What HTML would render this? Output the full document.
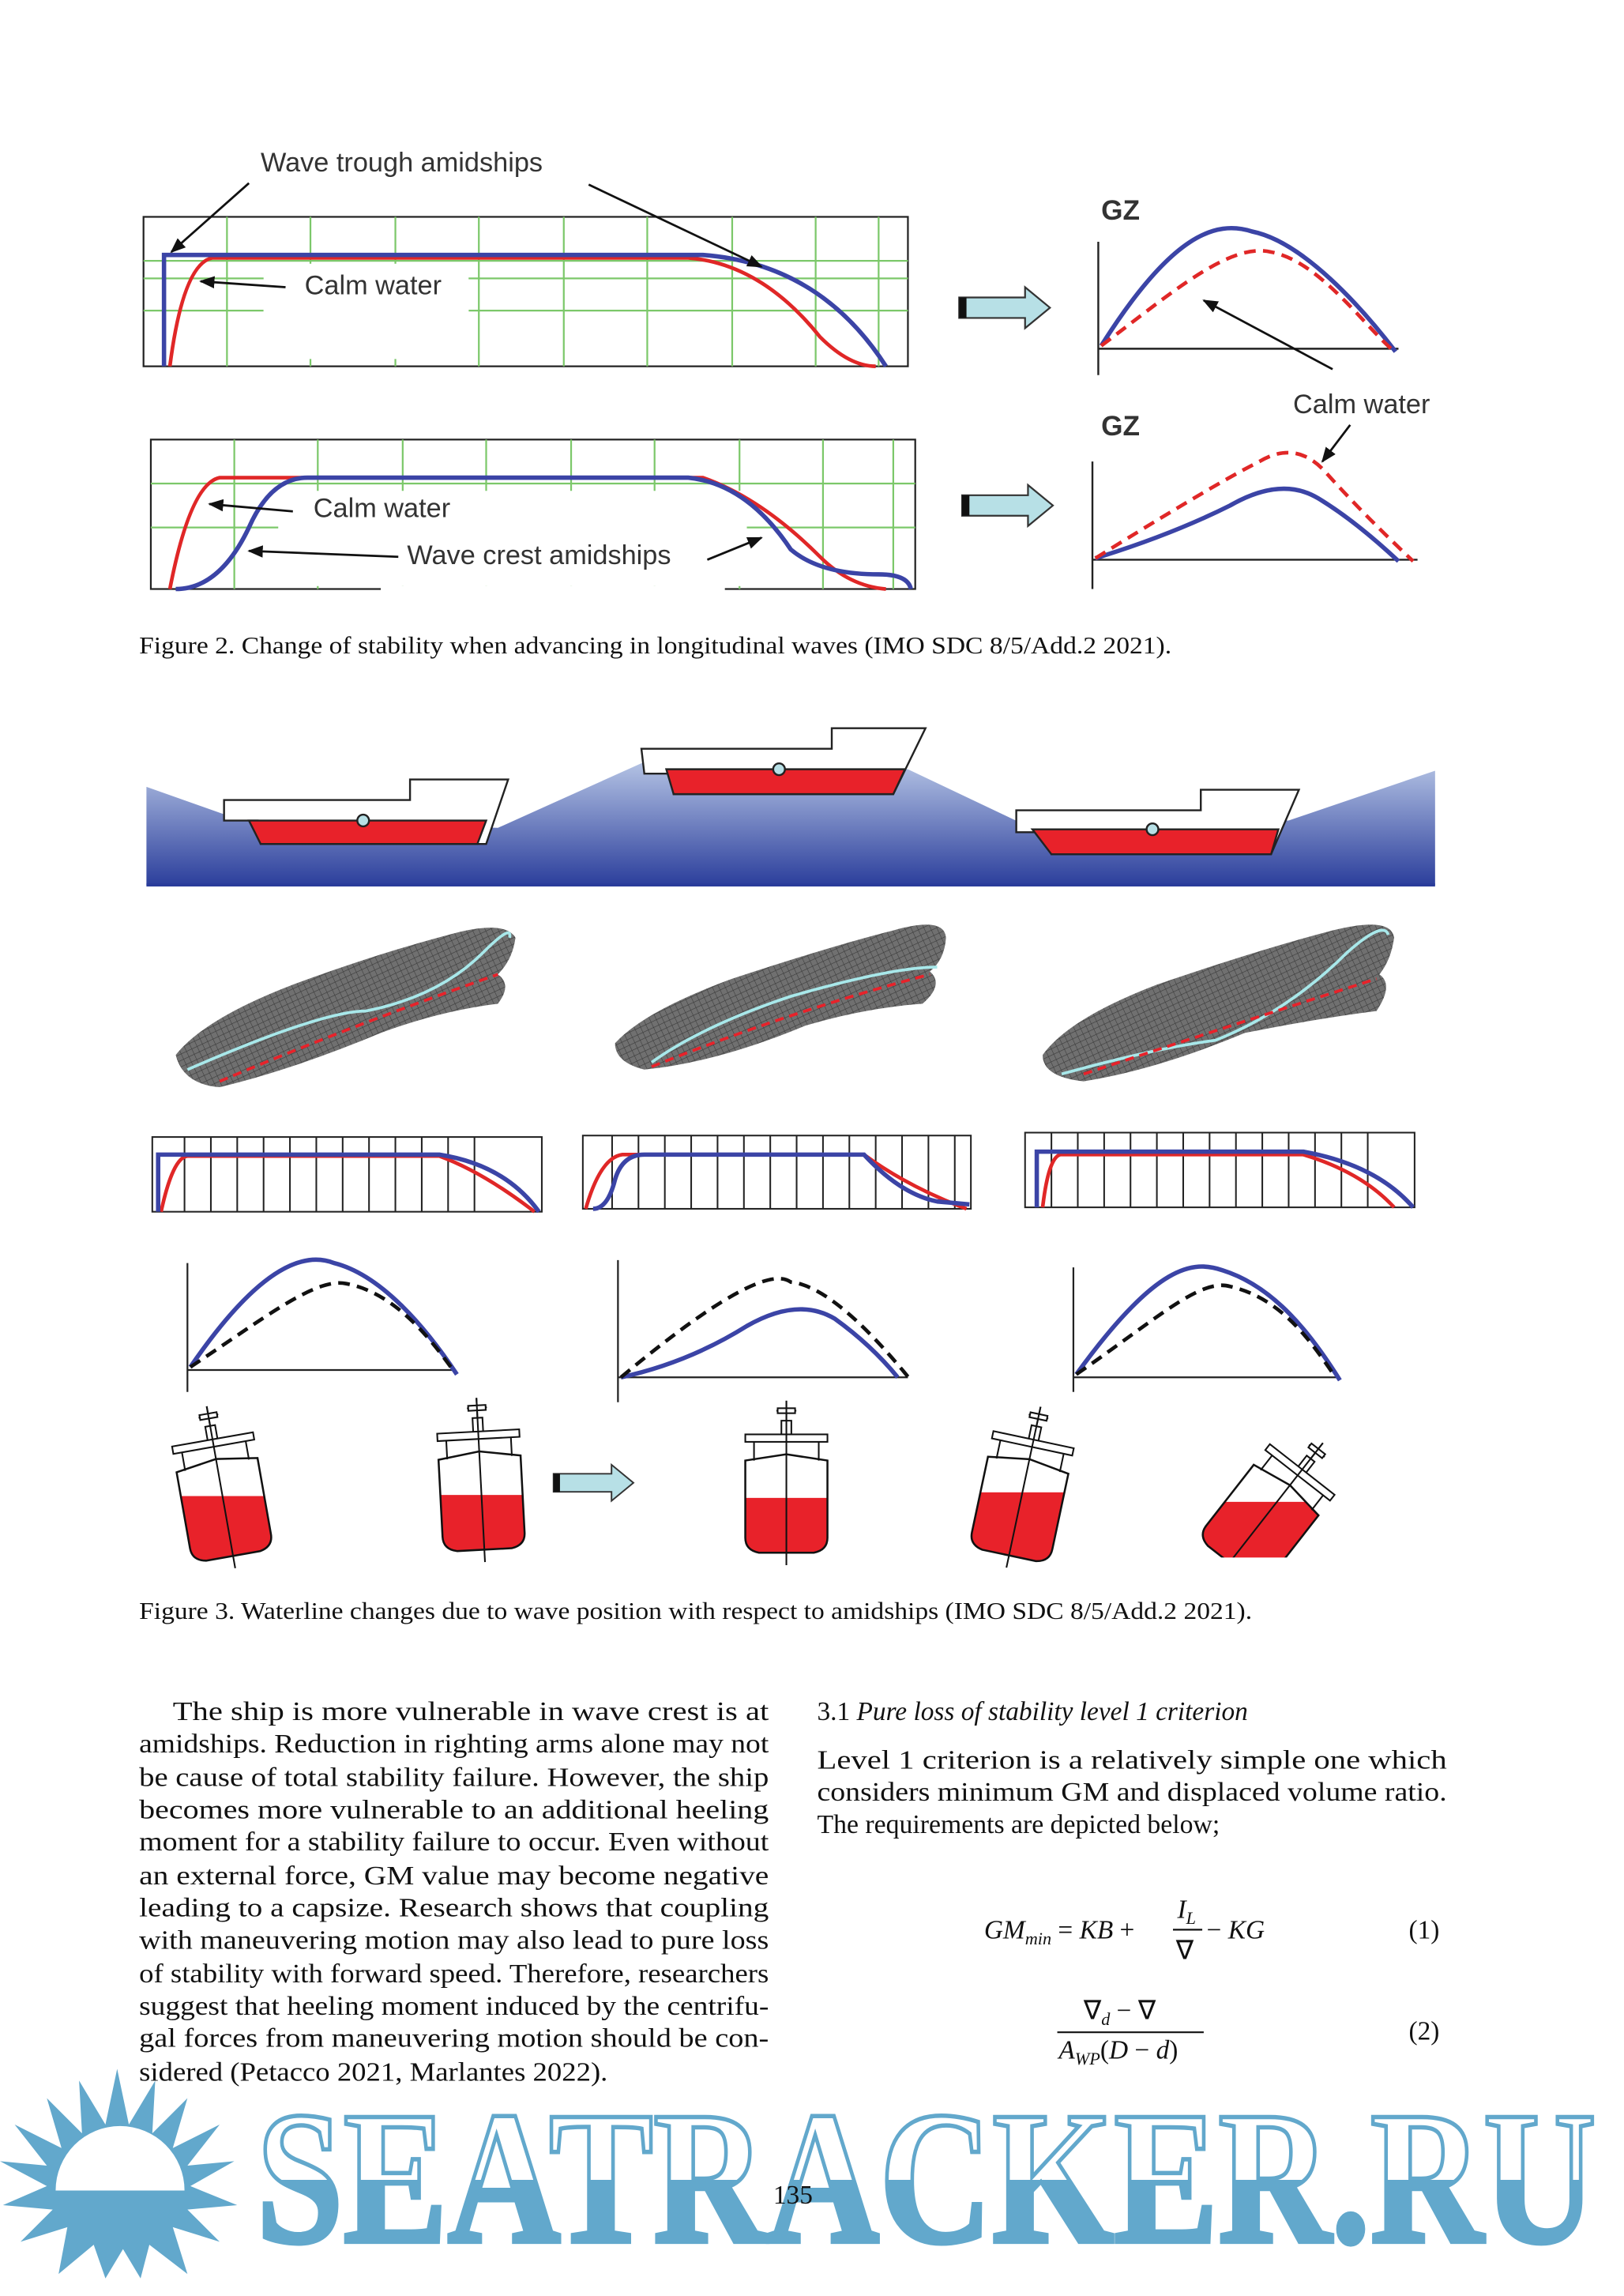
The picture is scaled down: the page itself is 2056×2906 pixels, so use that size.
<!DOCTYPE html>
<html><head><meta charset="utf-8"><style>
html,body{margin:0;padding:0;background:#fff}
svg{display:block}
text{font-family:"Liberation Serif",serif}
.s{font-family:"Liberation Sans",sans-serif}
</style></head><body>
<svg width="2056" height="2906" viewBox="0 0 1109 1567" preserveAspectRatio="none" xmlns="http://www.w3.org/2000/svg">
<defs>
<marker id="ah" viewBox="0 0 10 10" refX="9" refY="5" markerWidth="7" markerHeight="7" orient="auto"><path d="M0,1 L10,5 L0,9 Z" fill="#111"/></marker>
<linearGradient id="sea" x1="0" y1="0" x2="0" y2="1"><stop offset="0" stop-color="#b4c3e4"/><stop offset="1" stop-color="#2c3f9c"/></linearGradient>
<linearGradient id="wm" gradientUnits="userSpaceOnUse" x1="0" y1="1440" x2="0" y2="1532"><stop offset="0.52" stop-color="#fff"/><stop offset="0.52" stop-color="#62a8cc"/></linearGradient>
<pattern id="mesh" width="4" height="4" patternUnits="userSpaceOnUse" patternTransform="rotate(-25)"><rect width="4" height="4" fill="#707070"/><path d="M0,0H4M0,0V4" stroke="#3a3a3a" stroke-width="0.6"/></pattern>
<g id="arrowR"><path d="M0,-7 H45 V-14 L62,0 L45,14 V7 H0 Z" fill="#b7e0e6" stroke="#333" stroke-width="1.2"/><rect x="0" y="-7" width="5" height="14" fill="#111"/></g>
<path id="hull" d="M-33,-12 L0,-17 L33,-12 L33,50 Q33,60 22,62 L-22,62 Q-33,60 -33,50 Z"/>
<g id="top" fill="none" stroke="#111" stroke-width="1.3">
<path d="M-26,-12 V-27 M26,-12 V-27"/><rect x="-33" y="-33" width="66" height="6" fill="#fff"/>
<path d="M-4,-33 V-44 H4 V-33"/><path d="M0,-44 V-60 M-8,-52 H8"/><rect x="-7" y="-54" width="14" height="4" fill="#fff"/>
<path d="M0,-60 V72"/></g>
<clipPath id="c1"><use href="#hull" transform="rotate(-10)"/></clipPath>
<clipPath id="c2"><use href="#hull" transform="rotate(-3)"/></clipPath>
<clipPath id="c3"><use href="#hull"/></clipPath>
<clipPath id="c4"><use href="#hull" transform="rotate(12)"/></clipPath>
<clipPath id="c5"><use href="#hull" transform="rotate(38)"/></clipPath>
</defs>
<rect width="1109" height="1567" fill="#fff"/>

<!-- FIGURE 2 top -->
<g>
<rect x="98" y="148" width="522" height="102" fill="#fff" stroke="#222" stroke-width="1.2"/>
<g stroke="#7cc86a" stroke-width="1.2">
<path d="M98,178H620 M98,212H180 M320,212H620 M98,190H620"/>
<path d="M155,148V250M212,148V250M270,148V250M327,148V250M385,148V250M442,148V250M500,148V250M557,148V250M600,148V250"/>
</g>
<rect x="180" y="180" width="140" height="65" fill="#fff"/>
<path d="M116,250 Q125,180 145,176 L470,176 Q520,180 560,230 Q580,250 598,250" fill="none" stroke="#e02727" stroke-width="2.5"/>
<path d="M112,250 V174 L480,174 Q560,180 605,250" fill="none" stroke="#3b44a6" stroke-width="3"/>
<text x="178" y="117" class="s" font-size="18.5" fill="#333">Wave trough amidships</text>
<line x1="170" y1="125" x2="117" y2="172" stroke="#111" stroke-width="1.5" marker-end="url(#ah)"/>
<line x1="402" y1="126" x2="520" y2="182" stroke="#111" stroke-width="1.5" marker-end="url(#ah)"/>
<text x="208" y="201" class="s" font-size="18.5" fill="#333">Calm water</text>
<line x1="195" y1="196" x2="137" y2="192" stroke="#111" stroke-width="1.5" marker-end="url(#ah)"/>
<use href="#arrowR" transform="translate(655,210)"/>
<text x="752" y="150" class="s" font-size="19" font-weight="bold" fill="#333">GZ</text>
<path d="M750,165 V256 M750,238 H955" stroke="#222" stroke-width="1.3" fill="none"/>
<path d="M752,236 C800,160 830,150 855,158 C890,165 930,210 953,240" fill="none" stroke="#3b44a6" stroke-width="3"/>
<path d="M752,236 C800,200 840,165 868,172 C900,178 930,220 950,238" fill="none" stroke="#e02727" stroke-width="2.5" stroke-dasharray="8,5"/>
<line x1="910" y1="252" x2="822" y2="205" stroke="#111" stroke-width="1.5" marker-end="url(#ah)"/>
<text x="883" y="282" class="s" font-size="18.5" fill="#333">Calm water</text>
</g>
<!-- FIGURE 2 bottom -->
<g>
<rect x="103" y="300" width="522" height="102" fill="#fff" stroke="#222" stroke-width="1.2"/>
<g stroke="#7cc86a" stroke-width="1.2">
<path d="M103,330H625 M103,360H625"/>
<path d="M160,300V402M217,300V402M275,300V402M332,300V402M390,300V402M447,300V402M505,300V402M562,300V402M610,300V402"/>
</g>
<rect x="190" y="335" width="320" height="65" fill="#fff"/>
<rect x="260" y="400" width="235" height="4" fill="#fff"/>
<path d="M116,402 Q130,330 150,326 L480,326 Q520,340 560,380 Q580,400 605,402" fill="none" stroke="#e02727" stroke-width="2.5"/>
<path d="M120,402 Q150,402 170,360 Q185,326 210,326 L470,326 Q510,330 540,375 Q560,392 600,392 Q620,392 622,402" fill="none" stroke="#3b44a6" stroke-width="3"/>
<text x="214" y="353" class="s" font-size="18.5" fill="#333">Calm water</text>
<line x1="200" y1="349" x2="143" y2="344" stroke="#111" stroke-width="1.5" marker-end="url(#ah)"/>
<text x="278" y="385" class="s" font-size="18.5" fill="#333">Wave crest amidships</text>
<line x1="272" y1="380" x2="170" y2="376" stroke="#111" stroke-width="1.5" marker-end="url(#ah)"/>
<line x1="483" y1="382" x2="520" y2="367" stroke="#111" stroke-width="1.5" marker-end="url(#ah)"/>
<use href="#arrowR" transform="translate(657,345)"/>
<text x="752" y="297" class="s" font-size="19" font-weight="bold" fill="#333">GZ</text>
<path d="M746,315 V402 M746,382 H968" stroke="#222" stroke-width="1.3" fill="none"/>
<path d="M748,381 Q800,365 840,345 Q875,325 900,340 Q925,355 955,383" fill="none" stroke="#3b44a6" stroke-width="3"/>
<path d="M748,381 Q830,330 860,315 Q885,300 905,322 Q930,350 965,383" fill="none" stroke="#e02727" stroke-width="2.5" stroke-dasharray="8,5"/>
<line x1="922" y1="290" x2="903" y2="315" stroke="#111" stroke-width="1.5" marker-end="url(#ah)"/>
</g>
<text x="95" y="446" font-size="16.5" fill="#111" textLength="705" lengthAdjust="spacingAndGlyphs">Figure 2.  Change of stability when advancing in longitudinal waves (IMO SDC 8/5/Add.2 2021).</text>

<!-- FIGURE 3 sea -->
<path d="M100,537 L165,560 L340,565 L440,520 L620,525 L700,563 L880,560 L980,526 L980,604 L100,604 Z" fill="url(#sea)"/>
<line x1="100" y1="604" x2="980" y2="604" stroke="#2a3c9a" stroke-width="2"/>
<g stroke="#222" stroke-width="1.3">
<path d="M153,546 H280 V532 H347 L332,576 H178 L176,560 H153 Z" fill="#fff"/>
<path d="M170,560 H332 L326,576 H178 Z" fill="#e8222a"/>
<circle cx="248" cy="560" r="4" fill="#b7e0e6"/>
<path d="M438,511 H568 V497 H632 L610,542 H460 L458,528 H440 Z" fill="#fff"/>
<path d="M455,525 H618 L610,542 H460 Z" fill="#e8222a"/>
<circle cx="532" cy="525" r="4" fill="#b7e0e6"/>
<path d="M694,553 H820 V539 H887 L868,583 H718 L716,568 H694 Z" fill="#fff"/>
<path d="M705,566 H873 L868,583 H718 Z" fill="#e8222a"/>
<circle cx="787" cy="566" r="4" fill="#b7e0e6"/>
</g>
<!-- hulls -->
<g>
<path d="M120,720 Q140,695 200,672 Q260,650 310,637 Q345,628 352,640 Q350,655 340,665 Q350,672 340,685 Q300,690 260,705 Q200,730 150,742 Q125,740 120,720 Z" fill="url(#mesh)"/>
<path d="M128,730 Q220,690 250,690 Q300,680 330,650 Q350,630 348,640" fill="none" stroke="#a8e8ea" stroke-width="2"/>
<path d="M150,738 Q240,700 340,665" fill="none" stroke="#e8222a" stroke-width="2" stroke-dasharray="6,4"/>
<path d="M420,712 Q440,690 500,668 Q570,645 610,635 Q645,625 646,640 Q645,655 635,663 Q645,672 630,685 Q590,688 550,700 Q490,725 440,730 Q420,725 420,712 Z" fill="url(#mesh)"/>
<path d="M445,725 Q480,700 540,680 Q610,660 640,660" fill="none" stroke="#a8e8ea" stroke-width="2"/>
<path d="M445,728 Q540,690 635,665" fill="none" stroke="#e8222a" stroke-width="2" stroke-dasharray="6,4"/>
<path d="M712,720 Q730,695 790,672 Q860,648 910,635 Q950,625 952,640 Q950,655 942,665 Q952,672 940,690 Q900,695 850,705 Q790,730 740,738 Q712,735 712,720 Z" fill="url(#mesh)"/>
<path d="M725,733 Q790,715 830,710 Q880,690 920,650 Q945,628 948,638" fill="none" stroke="#a8e8ea" stroke-width="2"/>
<path d="M740,733 Q840,700 940,668" fill="none" stroke="#e8222a" stroke-width="2" stroke-dasharray="6,4"/>
</g>
<!-- small boxes -->
<g fill="none" stroke="#222" stroke-width="1.1">
<rect x="104" y="776" width="266" height="51"/><path d="M126,776V827M144,776V827M162,776V827M180,776V827M198,776V827M216,776V827M234,776V827M252,776V827M270,776V827M288,776V827M306,776V827M324,776V827"/>
<rect x="398" y="775" width="265" height="50"/><path d="M418,775V825M436,775V825M454,775V825M472,775V825M490,775V825M508,775V825M526,775V825M544,775V825M562,775V825M580,775V825M598,775V825M616,775V825M634,775V825M652,775V825"/>
<rect x="700" y="773" width="266" height="51"/><path d="M718,773V824M736,773V824M754,773V824M772,773V824M790,773V824M808,773V824M826,773V824M844,773V824M862,773V824M880,773V824M898,773V824M916,773V824M934,773V824"/>
</g>
<path d="M110,827 Q118,790 128,789 L300,789 Q330,800 365,827" fill="none" stroke="#e02727" stroke-width="2.5"/>
<path d="M108,827 V788 L300,788 Q345,795 368,827" fill="none" stroke="#3b44a6" stroke-width="3"/>
<path d="M400,825 Q410,790 425,788 L590,788 Q620,810 660,825" fill="none" stroke="#e02727" stroke-width="2.5"/>
<path d="M405,825 Q415,825 420,805 Q425,788 440,788 L590,788 Q615,815 640,820 L662,822" fill="none" stroke="#3b44a6" stroke-width="3"/>
<path d="M712,824 Q716,790 724,788 L890,788 Q930,800 952,824" fill="none" stroke="#e02727" stroke-width="2.5"/>
<path d="M708,824 V786 L890,786 Q940,795 965,824" fill="none" stroke="#3b44a6" stroke-width="3"/>
<!-- GZ row -->
<g stroke="#222" stroke-width="1.2" fill="none"><path d="M128,862V950M128,935H310"/><path d="M422,860V957M422,940H620"/><path d="M733,865V950M733,940H915"/></g>
<g fill="none" stroke="#3b44a6" stroke-width="3"><path d="M130,933 C180,860 210,855 228,862 C260,870 290,905 312,938"/><path d="M424,940 Q470,930 510,905 Q545,885 570,900 Q595,918 613,940"/><path d="M735,938 C790,862 815,860 835,867 C870,878 895,910 915,942"/></g>
<g fill="none" stroke="#111" stroke-width="2.5" stroke-dasharray="8,5"><path d="M130,933 C180,900 215,872 236,876 C270,882 295,915 310,936"/><path d="M424,940 Q520,860 540,875 Q570,878 622,942"/><path d="M735,938 C790,900 820,872 840,878 C875,886 895,915 912,940"/></g>
<!-- heeled ships -->
<g transform="translate(150,1010) scale(0.85)"><rect x="-60" y="13" width="120" height="80" fill="#e8222a" clip-path="url(#c1)"/><g transform="rotate(-10)"><use href="#hull" fill="none" stroke="#111" stroke-width="1.6"/><use href="#top"/></g></g>
<g transform="translate(328,1005) scale(0.85)"><rect x="-60" y="18" width="120" height="80" fill="#e8222a" clip-path="url(#c2)"/><g transform="rotate(-3)"><use href="#hull" fill="none" stroke="#111" stroke-width="1.6"/><use href="#top"/></g></g>
<use href="#arrowR" transform="translate(378,1012) scale(0.88)"/>
<g transform="translate(537,1007) scale(0.85)"><rect x="-60" y="18" width="120" height="80" fill="#e8222a" clip-path="url(#c3)"/><use href="#hull" fill="none" stroke="#111" stroke-width="1.6"/><use href="#top"/></g>
<g transform="translate(700,1010) scale(0.85)"><rect x="-70" y="10" width="140" height="80" fill="#e8222a" clip-path="url(#c4)"/><g transform="rotate(12)"><use href="#hull" fill="none" stroke="#111" stroke-width="1.6"/><use href="#top"/></g></g>
<g transform="translate(872,1025) scale(0.85)"><rect x="-80" y="0" width="160" height="80" fill="#e8222a" clip-path="url(#c5)"/><g transform="rotate(38)"><use href="#hull" fill="none" stroke="#111" stroke-width="1.6"/><use href="#top"/></g></g>
<rect x="780" y="1063" width="200" height="40" fill="#fff"/>
<text x="95" y="1105" font-size="16.5" fill="#111" textLength="760" lengthAdjust="spacingAndGlyphs">Figure 3.  Waterline changes due to wave position with respect to amidships (IMO SDC 8/5/Add.2 2021).</text>

<!-- body text -->
<g font-size="18" fill="#111">
<text x="118" y="1174" textLength="407" lengthAdjust="spacingAndGlyphs">The ship is more vulnerable in wave crest is at</text>
<text x="95" y="1196" textLength="430" lengthAdjust="spacingAndGlyphs">amidships. Reduction in righting arms alone may not</text>
<text x="95" y="1219" textLength="430" lengthAdjust="spacingAndGlyphs">be cause of total stability failure. However, the ship</text>
<text x="95" y="1241" textLength="430" lengthAdjust="spacingAndGlyphs">becomes more vulnerable to an additional heeling</text>
<text x="95" y="1263" textLength="430" lengthAdjust="spacingAndGlyphs">moment for a stability failure to occur. Even without</text>
<text x="95" y="1286" textLength="430" lengthAdjust="spacingAndGlyphs">an external force, GM value may become negative</text>
<text x="95" y="1308" textLength="430" lengthAdjust="spacingAndGlyphs">leading to a capsize. Research shows that coupling</text>
<text x="95" y="1330" textLength="430" lengthAdjust="spacingAndGlyphs">with maneuvering motion may also lead to pure loss</text>
<text x="95" y="1353" textLength="430" lengthAdjust="spacingAndGlyphs">of stability with forward speed. Therefore, researchers</text>
<text x="95" y="1375" textLength="430" lengthAdjust="spacingAndGlyphs">suggest that heeling moment induced by the centrifu-</text>
<text x="95" y="1397" textLength="430" lengthAdjust="spacingAndGlyphs">gal forces from maneuvering motion should be con-</text>
<text x="95" y="1420" textLength="320" lengthAdjust="spacingAndGlyphs">sidered (Petacco 2021, Marlantes 2022).</text>
<text x="558" y="1174">3.1   <tspan font-style="italic">Pure loss of stability level 1 criterion</tspan></text>
<text x="558" y="1207" textLength="430" lengthAdjust="spacingAndGlyphs">Level 1 criterion is a relatively simple one which</text>
<text x="558" y="1229" textLength="430" lengthAdjust="spacingAndGlyphs">considers minimum GM and displaced volume ratio.</text>
<text x="558" y="1251" textLength="275" lengthAdjust="spacingAndGlyphs">The requirements are depicted below;</text>
<text x="672" y="1323" font-style="italic">GM<tspan font-size="12" dy="4">min</tspan><tspan dy="-4" font-style="normal"> = </tspan>KB<tspan font-style="normal"> + </tspan></text>
<text x="804" y="1309" font-style="italic">I<tspan font-size="12" dy="4">L</tspan></text>
<line x1="801" y1="1317" x2="821" y2="1317" stroke="#111" stroke-width="1.2"/>
<text x="803" y="1337">∇</text>
<text x="824" y="1323"><tspan>− </tspan><tspan font-style="italic">KG</tspan></text>
<text x="962" y="1323">(1)</text>
<text x="740" y="1378">∇<tspan font-style="italic" font-size="12" dy="4">d</tspan><tspan dy="-4"> − ∇</tspan></text>
<line x1="722" y1="1387" x2="822" y2="1387" stroke="#111" stroke-width="1.2"/>
<text x="723" y="1405" font-style="italic">A<tspan font-size="12" dy="4">WP</tspan><tspan dy="-4" font-style="normal">(</tspan>D<tspan font-style="normal"> − </tspan>d<tspan font-style="normal">)</tspan></text>
<text x="962" y="1392">(2)</text>
</g>

<!-- watermark -->
<g>
<polygon fill="#62a8cc" points="80,1412 88,1450 106,1420 104,1456 128,1432 118,1466 150,1450 128,1478 160,1475 130,1492 162,1505 128,1508 150,1530 118,1520 128,1552 102,1532 96,1555 84,1535 72,1555 64,1532 40,1552 46,1520 14,1530 36,1508 2,1505 32,1492 0,1475 32,1478 10,1450 42,1466 32,1432 56,1456 54,1420 72,1450"/>
<path d="M38,1495 A44,44 0 0 1 126,1495 Z" fill="#fff"/>
<text x="175" y="1530" font-size="130" font-weight="bold" fill="url(#wm)" stroke="#62a8cc" stroke-width="3" textLength="915" lengthAdjust="spacingAndGlyphs">SEATRACKER.RU</text>
<text x="528" y="1504" font-size="18" fill="#111">135</text>
</g>
</svg>
</body></html>
